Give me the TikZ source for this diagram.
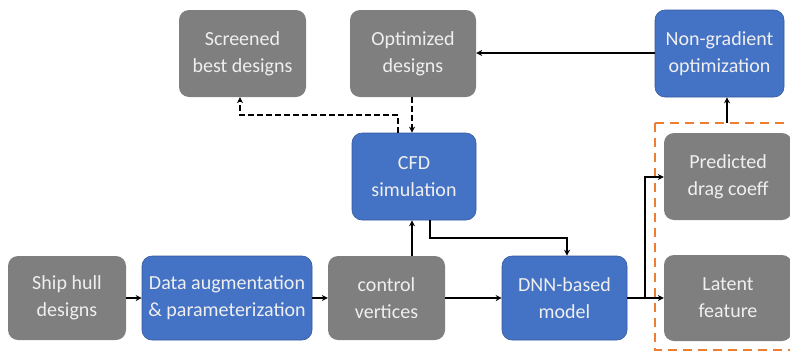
\documentclass[tikz,border=0pt]{standalone}
\usepackage{fontspec}
\setmainfont{Carlito}
\usetikzlibrary{arrows.meta}
\definecolor{boxgray}{HTML}{7F7F7F}
\definecolor{boxblue}{HTML}{4472C4}
\definecolor{dashorange}{HTML}{ED7D31}
\definecolor{txt}{HTML}{EFEFEF}
\begin{document}
\begin{tikzpicture}[x=1pt,y=-1pt,
  base/.style={rounded corners=10pt, inner sep=0pt, align=center, text=txt,
    font=\fontsize{20}{27}\selectfont},
  graybox/.style={base, fill=boxgray},
  bluebox/.style={base, fill=boxblue, draw=boxblue!80!black, line width=0.6pt},
  conn/.style={line width=1.8pt, -{Stealth[length=6pt,width=6pt]}},
  dconn/.style={conn, dash pattern=on 6pt off 3pt}]
\useasboundingbox (0,0) rectangle (790,354);
\node[graybox, minimum width=118pt, minimum height=84pt] (ship) at (67,298) {Ship hull\\designs};
\node[bluebox, minimum width=170pt, minimum height=84pt] (data) at (227,298) {Data augmentation\\\& parameterization};
\node[graybox, minimum width=117pt, minimum height=84pt] (ctrl) at (386.5,298) {control\\vertices};
\node[bluebox, minimum width=125pt, minimum height=84pt] (dnn) at (564.5,298) {DNN-based\\model};
\node[bluebox, minimum width=124pt, minimum height=87pt] (cfd) at (414,176.5) {CFD\\simulation};
\node[graybox, minimum width=127pt, minimum height=87pt] (screen) at (242.5,53.5) {Screened\\best designs};
\node[graybox, minimum width=126pt, minimum height=87pt] (opt) at (413,53.5) {Optimized\\designs};
\node[bluebox, minimum width=129pt, minimum height=87pt] (nongrad) at (719.5,53.5) {Non-gradient\\optimization};
\node[graybox, minimum width=128pt, minimum height=87pt] (pred) at (728,176.5) {Predicted\\drag coeff};
\node[graybox, minimum width=128pt, minimum height=86pt] (latent) at (728,298) {Latent\\feature};
% orange dashed region
\coordinate (otl) at (655,123);
\coordinate (obr) at (800,350);
\draw[dashorange, line width=2pt, dash pattern=on 9pt off 6pt] (otl) rectangle (obr);
\coordinate (otop) at (727,123);
% connectors
\draw[conn] (ship) -- (data);
\draw[conn] (data) -- (ctrl);
\draw[conn] (ctrl) -- (dnn);
\draw[conn] (ctrl.north -| 412,0) -- (cfd.south -| 412,0);
\draw[conn] (cfd.south -| 430,0) |- (567,238) -- (dnn.north -| 567,0);
\coordinate (br) at (645,298);
\draw[conn] (dnn.east) -- (latent.west |- dnn.east);
\draw[conn] (br) |- (pred.west |- 0,177);
\draw[conn] (otop) -- (nongrad.south -| otop);
\draw[conn] (nongrad.west |- 0,53) -- (opt.east |- 0,53);
\draw[dconn] (opt.south -| 412,0) -- (cfd.north -| 412,0);
\draw[dconn] (cfd.north -| 398,0) |- (240,115) -- (screen.south -| 240,0);
\end{tikzpicture}
\end{document}
